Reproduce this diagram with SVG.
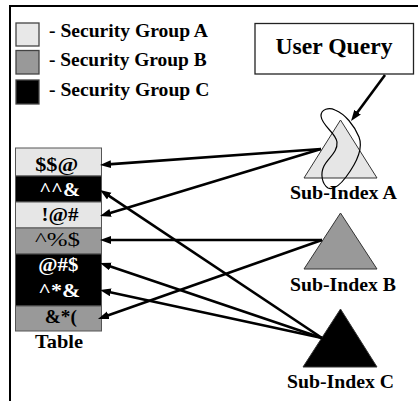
<svg xmlns="http://www.w3.org/2000/svg" width="419" height="401" viewBox="0 0 419 401" font-family="'Liberation Serif', 'Times New Roman', Times, serif" font-weight="bold">
  <style>
    .lbl { font-size: 19.5px; text-anchor: middle; }
    .cell { font-size: 19px; text-anchor: middle; }
    .inv { fill: #fff; }
    .frame { stroke: #000; stroke-width: 2; fill: none; }
    .key { stroke: #444; stroke-width: 1.3; }
    .tri { stroke: #333; stroke-width: 1; }
    .row { stroke: #555; stroke-width: 1; }
    .conn { stroke: #000; stroke-width: 2.6; fill: none; marker-end: url(#head); }
  </style>
  <defs>
    <marker id="head" markerUnits="userSpaceOnUse" markerWidth="12" markerHeight="9" refX="3" refY="4" orient="auto">
      <path d="M0,0 L11,4 L0,8 Z" fill="#000"/>
    </marker>
  </defs>

  <!-- outer frame: top and left edges only -->
  <path class="frame" d="M10,401 V6 H418"/>

  <!-- legend -->
  <g id="legend">
    <rect class="key" x="16" y="23" width="23" height="23" fill="#e8e8e8"/>
    <text x="49" y="36.7" font-size="19.5" textLength="159" lengthAdjust="spacingAndGlyphs">- Security Group A</text>
    <rect class="key" x="16" y="50.5" width="23" height="23.5" fill="#999"/>
    <text x="49" y="66.3" font-size="19.5" textLength="157.7" lengthAdjust="spacingAndGlyphs">- Security Group B</text>
    <rect class="key" x="16" y="80" width="23" height="24" fill="#000"/>
    <text x="49" y="96" font-size="19.5" textLength="160.3" lengthAdjust="spacingAndGlyphs">- Security Group C</text>
  </g>

  <!-- query box -->
  <g id="user-query">
    <rect x="255" y="23.5" width="158.5" height="50.5" fill="#fff" stroke="#222" stroke-width="1.3"/>
    <text x="334" y="54" font-size="23.5" text-anchor="middle" textLength="117" lengthAdjust="spacingAndGlyphs">User Query</text>
  </g>

  <!-- table of records -->
  <g id="table">
    <rect class="row" x="15.5" y="148" width="86" height="28" fill="#e6e6e6"/>
    <rect class="row" x="15.5" y="176" width="86" height="26" fill="#000"/>
    <rect class="row" x="15.5" y="202" width="86" height="26" fill="#e6e6e6"/>
    <rect class="row" x="15.5" y="228" width="86" height="26" fill="#999"/>
    <rect class="row" x="15.5" y="254" width="86" height="52" fill="#000"/>
    <rect class="row" x="15.5" y="306" width="86" height="25" fill="#999"/>
    <text class="cell" x="56.7" y="171" textLength="43" lengthAdjust="spacingAndGlyphs">$$@</text>
    <text class="cell inv" x="59.7" y="196" textLength="41" lengthAdjust="spacingAndGlyphs">^^&amp;</text>
    <text class="cell" x="60" y="221" textLength="37" lengthAdjust="spacingAndGlyphs">!@#</text>
    <text class="cell" x="57.5" y="246" textLength="45" lengthAdjust="spacingAndGlyphs" font-weight="normal">^%$</text>
    <text class="cell inv" x="58.3" y="270.5" textLength="40" lengthAdjust="spacingAndGlyphs">@#$</text>
    <text class="cell inv" x="59.2" y="297" textLength="42" lengthAdjust="spacingAndGlyphs">^*&amp;</text>
    <text class="cell" x="60.8" y="323" textLength="32" lengthAdjust="spacingAndGlyphs">&amp;*(</text>
    <text class="lbl" x="59" y="348" textLength="48" lengthAdjust="spacingAndGlyphs">Table</text>
  </g>

  <!-- sub-indexes -->
  <g id="sub-index-a">
    <polygon class="tri" points="340.5,120 304,178 377,178" fill="#e6e6e6"/>
    <!-- selection loop drawn over the index -->
    <path d="M328,188 C322,184 320,174 324,166 C328,158 338,152 337,142 C336,133 322,126 321,116 C321,109 329,107 335,110 C345,114 354,125 359,137 C364,150 355,165 346,177 C340,185 333,190 328,188 Z" fill="none" stroke="#000" stroke-width="1.2"/>
    <text class="lbl" x="343.4" y="199" textLength="107" lengthAdjust="spacingAndGlyphs">Sub-Index A</text>
  </g>
  <g id="sub-index-b">
    <polygon class="tri" points="340.5,213 304,269 377,269" fill="#999"/>
    <text class="lbl" x="343" y="290.7" textLength="106" lengthAdjust="spacingAndGlyphs">Sub-Index B</text>
  </g>
  <g id="sub-index-c">
    <polygon class="tri" points="340.5,309 303,367 377,367" fill="#000"/>
    <text class="lbl" x="340.5" y="388.3" textLength="107" lengthAdjust="spacingAndGlyphs">Sub-Index C</text>
  </g>

  <!-- connectors -->
  <g id="connectors">
    <line class="conn" x1="385" y1="75" x2="355.8" y2="114.6"/>
    <line class="conn" x1="321" y1="149" x2="108" y2="164.4"/>
    <line class="conn" x1="321" y1="149" x2="107.7" y2="213.7"/>
    <line class="conn" x1="322" y1="240" x2="108" y2="240"/>
    <line class="conn" x1="322" y1="240" x2="105.5" y2="316.3"/>
    <line class="conn" x1="322" y1="338" x2="106.7" y2="194.4"/>
    <line class="conn" x1="322" y1="338" x2="107.6" y2="265.6"/>
    <line class="conn" x1="322" y1="338" x2="107.8" y2="291.7"/>
  </g>
</svg>
